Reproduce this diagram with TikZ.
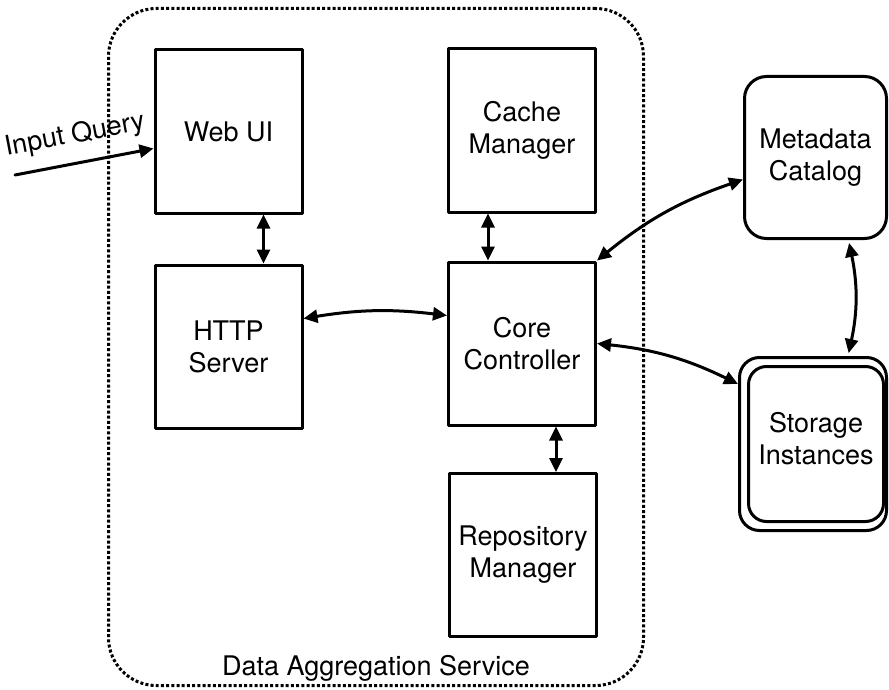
\documentclass[tikz,border=0pt]{standalone}
\usepackage{fontspec}
\setmainfont{TeX Gyre Heros}
\usetikzlibrary{arrows.meta}

\begin{document}
\begin{tikzpicture}[line cap=round,line join=round,>={Triangle[length=14pt,width=13pt]},x=1pt,y=-1pt,
    font=\fontsize{27}{32}\selectfont,
    box/.style={draw,line width=3pt,minimum width=147pt,minimum height=163pt,align=center,inner sep=0pt},
    rbox/.style={box,rounded corners=22pt,fill=white},
    link/.style={<->,line width=3pt}]
    \useasboundingbox (0,0) rectangle (889,690);
    % service frame
    \node [draw,line width=3pt,line cap=butt,dash pattern=on 3pt off 2.2pt,rounded corners=48pt,minimum width=535pt,minimum height=677pt] (das) at (376,347) {};
    \node [anchor=base] (daslabel) at (376,675) {Data Aggregation Service};
    % components
    \node [box] (webui) at (228.5,131.5) {Web UI};
    \node [box] (http) at (228.5,346.5) {HTTP\\Server};
    \node [box] (cache) at (522,130.5) {Cache\\Manager};
    \node [box] (core) at (522,343.5) {Core\\Controller};
    \node [box] (repo) at (523,555) {Repository\\Manager};
    \node [rbox,minimum width=142pt,minimum height=162pt] (meta) at (815.5,157.5) {Metadata\\Catalog};
    \node [rbox,rounded corners=20pt,minimum width=147pt,minimum height=173pt] (stback) at (813,444) {};
    \node [rbox,rounded corners=18pt,minimum width=135pt,minimum height=155pt,text depth=12pt] (store) at (816,444) {Storage\\Instances};
    % connectors
    \coordinate (qin) at (15,175);
    \draw [->,line width=3pt] (qin) -- ([yshift=-17pt]webui.west) node [pos=0.47,above=13pt,sloped,inner sep=0pt] (qlabel) {Input Query};
    \draw [link] ([xshift=35pt]webui.south) -- ([xshift=35pt]http.north);
    \draw [link] ([xshift=-34pt]cache.south) -- ([xshift=-34pt]core.north);
    \draw [link] ([xshift=34pt]core.south) -- ([xshift=34pt]core.south |- repo.north);
    \draw [link] ([yshift=28pt]http.east) to [bend left=8] ([yshift=28pt]core.west);
    \draw [link] (core.north east) to [bend left=10] ([yshift=-22pt]meta.west);
    \draw [link] (core.east) to [bend left=10] ([yshift=60pt]stback.west);
    \draw [link,shorten <=3pt,shorten >=3pt] ([xshift=33pt]meta.south) to [bend left=12] ([xshift=35pt]stback.north);
\end{tikzpicture}
\end{document}
